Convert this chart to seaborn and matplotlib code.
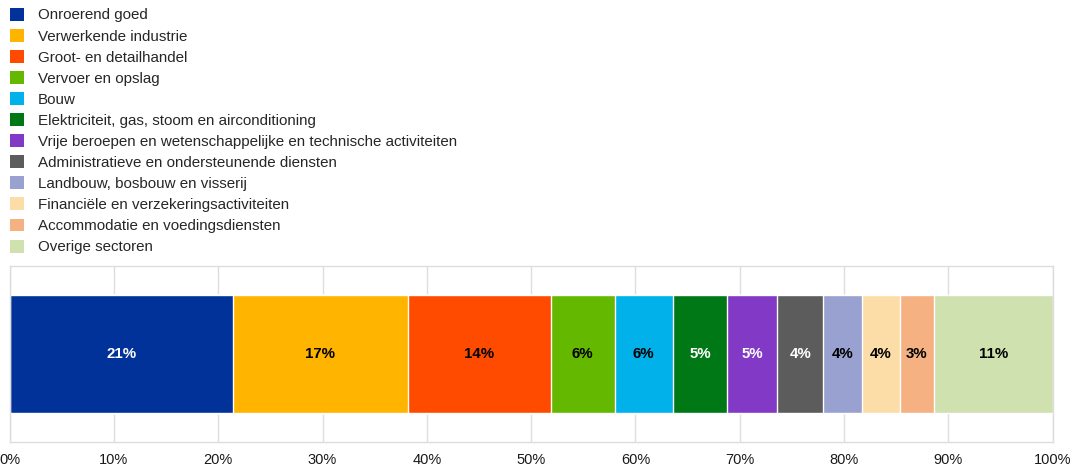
import matplotlib
matplotlib.use("Agg")
import matplotlib.pyplot as plt
from matplotlib.patches import Patch
import seaborn as sns
import numpy as np

sectors = [
    "Onroerend goed",
    "Verwerkende industrie",
    "Groot- en detailhandel",
    "Vervoer en opslag",
    "Bouw",
    "Elektriciteit, gas, stoom en airconditioning",
    "Vrije beroepen en wetenschappelijke en technische activiteiten",
    "Administratieve en ondersteunende diensten",
    "Landbouw, bosbouw en visserij",
    "Financiële en verzekeringsactiviteiten",
    "Accommodatie en voedingsdiensten",
    "Overige sectoren",
]
shares = [21.4, 16.8, 13.7, 6.1, 5.6, 5.2, 4.8, 4.4, 3.7, 3.7, 3.2, 11.4]
colors = ["#003299", "#FFB400", "#FF4B00", "#65B800", "#00B1EA", "#007816",
          "#8139C6", "#5C5C5C", "#98A1D0", "#FDDDA7", "#F6B183", "#CEE1AF"]
label_colors = ["white", "black", "black", "black", "black", "white",
                "white", "white", "black", "black", "black", "black"]
xticks = [0, 10, 20, 30, 40, 50, 60, 70, 80, 90, 100]

sns.set_style("white")
plt.rcParams["font.family"] = ["Liberation Sans", "DejaVu Sans"]

fig = plt.figure(figsize=(10.74, 4.70), dpi=100)
ax = fig.add_axes([9.6 / 1074, 28 / 470, 1043 / 1074, 176 / 470])

cum = np.cumsum(shares)
for i in reversed(range(len(shares))):
    sns.barplot(x=[cum[i]], y=["all"], orient="h", color=colors[i],
                saturation=1, width=0.67, ax=ax, zorder=2)

for i, v in enumerate(shares):
    ax.text(cum[i] - v / 2, 0, f"{round(v)}%", ha="center", va="center",
            fontsize=10.8, fontweight="bold", color=label_colors[i], zorder=3)

ax.set_xlim(0, 100)
ax.set_xticks(xticks)
ax.set_xticklabels([f"{t}%" for t in xticks], fontsize=10.5, color="#1a1a1a")
ax.tick_params(axis="x", length=0, pad=8)
ax.set_yticks([])
ax.set_ylabel("")
ax.set_xlabel("")
ax.grid(axis="x", color="#DDDDDD", linewidth=1, zorder=0)
ax.set_axisbelow(True)
for s in ax.spines.values():
    s.set_visible(True)
    s.set_color("#DDDDDD")
    s.set_linewidth(1)

handles = [Patch(facecolor=c, edgecolor="none") for c in colors]
fig.legend(handles, sectors, loc="upper left", bbox_to_anchor=(3 / 1074, 1 - 1 / 470),
           frameon=False, fontsize=10.9, handlelength=0.93, handleheight=0.93,
           handletextpad=0.93, labelspacing=0.425, borderaxespad=0.0,
           borderpad=0.45)

fig.savefig("out.png", dpi=100)
